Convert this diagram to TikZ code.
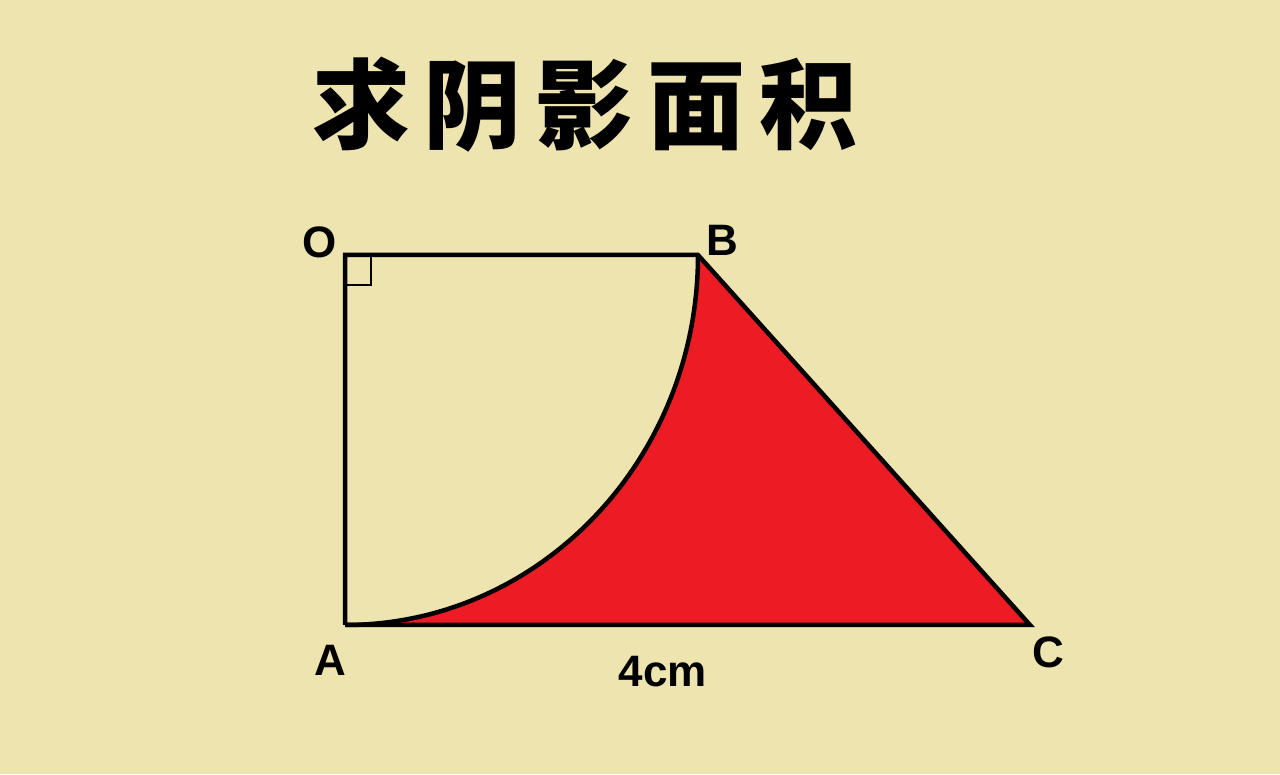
\documentclass[tikz,border=0pt]{standalone}
\usepackage{fontspec}
\setmainfont{Liberation Sans}
\newfontfamily\cjk{Noto Sans CJK SC}
\definecolor{bg}{RGB}{238,228,176}
\definecolor{redfill}{RGB}{237,28,36}
\begin{document}
\begin{tikzpicture}[x=1pt,y=1pt,
  edge/.style={line width=4.5pt,line join=miter},
  lbl/.style={font=\fontsize{44}{44}\selectfont\bfseries,inner sep=0pt}]
\fill[bg] (0,0) rectangle (1280,774);
\useasboundingbox (0,0) rectangle (1280,774);
\coordinate (O) at (345,519);
\coordinate (B) at (698,519);
\coordinate (A) at (345,149);
\coordinate (C) at (1030,149);
\fill[redfill] (B) arc[start angle=0,end angle=-90,x radius=353,y radius=370] -- (C) -- cycle;
\draw[edge] (A) -- (O) -- (B) -- (C) -- (A);
\draw[edge] (B) arc[start angle=0,end angle=-90,x radius=353,y radius=370];
\draw[line width=2.8pt] (O) ++(0,-30) -- ++(26,0) -- ++(0,30);
\node[lbl] (lO) at (320,532) {O};
\node[lbl] (lB) at (722,534) {B};
\node[lbl] (lA) at (330,114) {A};
\node[lbl] (lC) at (1048,122) {C};
\node[lbl] (len) at (663,102) {4cm};
\node[inner sep=0pt] (title) at (585,669) {\cjk\bfseries\fontsize{98}{98}\selectfont 求\hspace{14pt}阴\hspace{14pt}影\hspace{14pt}面\hspace{14pt}积};
\end{tikzpicture}
\end{document}
